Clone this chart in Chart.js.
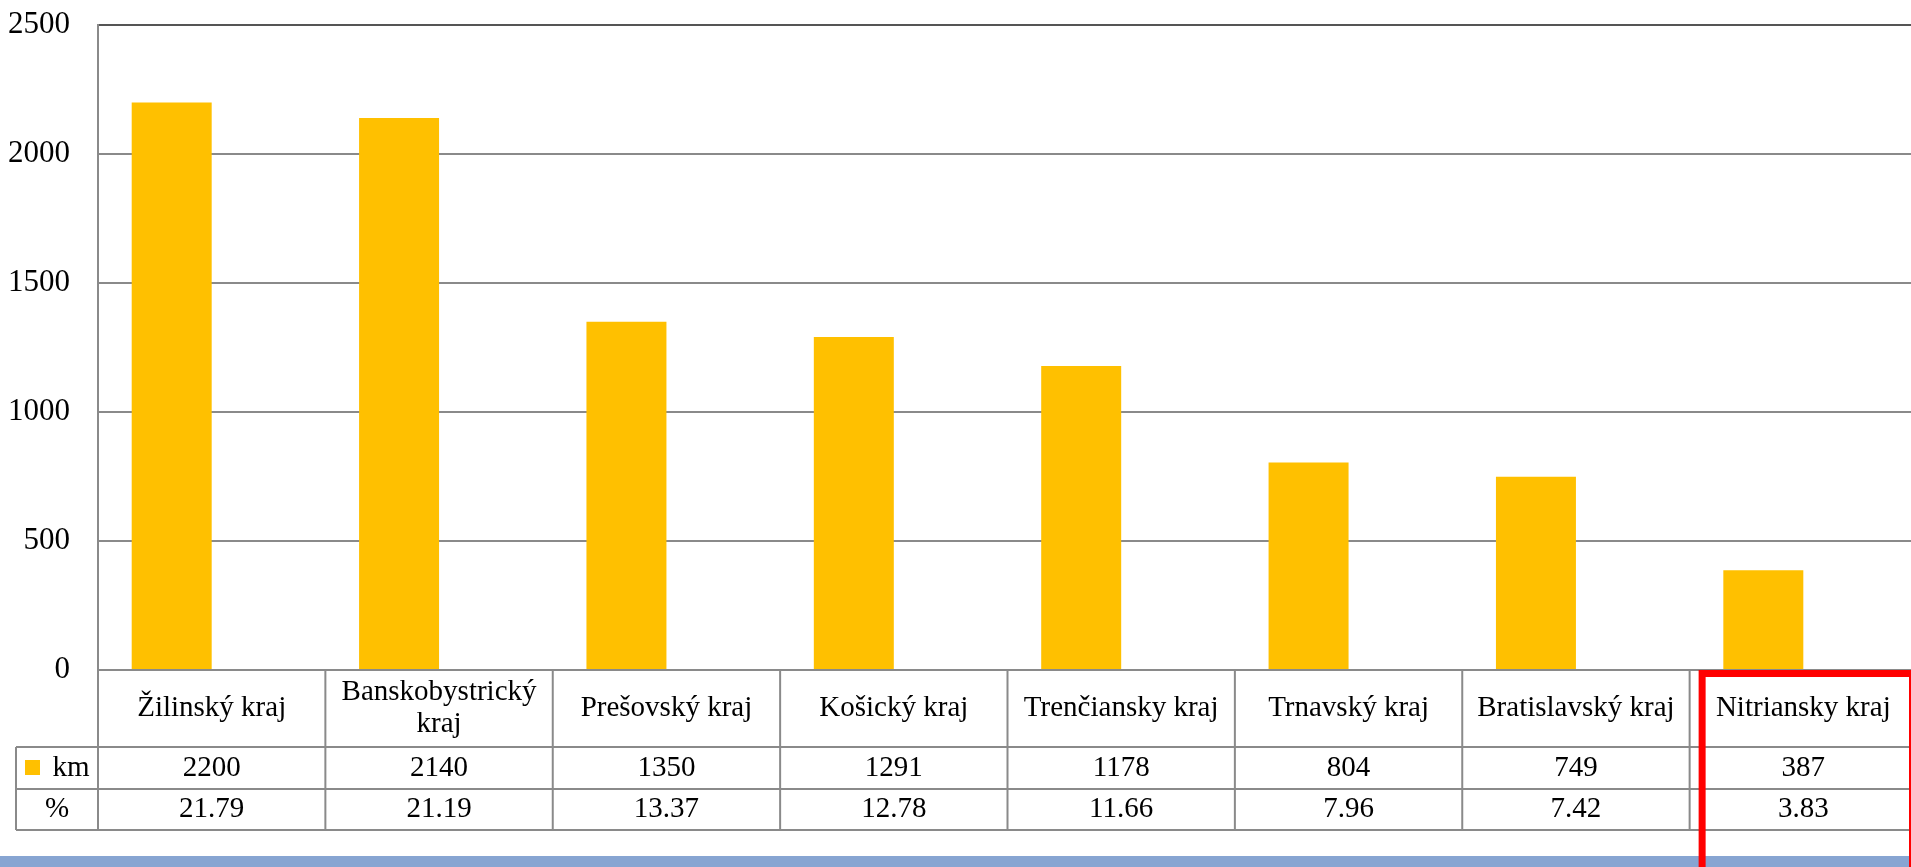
<!DOCTYPE html>
<html>
<head>
<meta charset="utf-8">
<script src="https://cdn.jsdelivr.net/npm/chart.js@4.4.1/dist/chart.umd.min.js"></script>
<style>
  html, body { margin: 0; padding: 0; background: #fff; overflow: hidden; }
  #wrap { width: 1917px; height: 867px; }
</style>
</head>
<body>
<div id="wrap"><canvas id="kmChart" width="1917" height="867"></canvas></div>
<script>
const categories = ['Žilinský kraj', 'Banskobystrický kraj', 'Prešovský kraj', 'Košický kraj', 'Trenčiansky kraj', 'Trnavský kraj', 'Bratislavský kraj', 'Nitriansky kraj'];
const kmValues = [2200, 2140, 1350, 1291, 1178, 804, 749, 387];
const pctValues = [21.79, 21.19, 13.37, 12.78, 11.66, 7.96, 7.42, 3.83];
const yTicks = [0, 500, 1000, 1500, 2000, 2500];
const highlighted = 'Nitriansky kraj';

const FONT = '"Liberation Serif", "Times New Roman", serif';
const LINE = '#8a8a8a';

// rows of the data table under the plot
const catRowH = 77, kmRowH = 42, pctRowH = 41;
const legendLeft = 16;

function wrapText(ctx, text, maxW) {
  const words = text.split(' ');
  const lines = [];
  let cur = '';
  words.forEach(w => {
    const t = cur ? cur + ' ' + w : w;
    if (ctx.measureText(t).width > maxW && cur) { lines.push(cur); cur = w; }
    else cur = t;
  });
  lines.push(cur);
  return lines;
}

const tablePlugin = {
  id: 'dataTable',
  beforeDraw(chart) {
    const c = chart.ctx;
    c.save();
    c.fillStyle = '#fff';
    c.fillRect(0, 0, chart.width, chart.height);
    c.restore();
  },
  afterDraw(chart) {
    const c = chart.ctx, x = chart.scales.x, area = chart.chartArea;
    const colW = (area.right - area.left) / categories.length;
    const y0 = area.bottom, y1 = y0 + catRowH, y2 = y1 + kmRowH, y3 = y2 + pctRowH;
    c.save();
    c.strokeStyle = LINE;
    c.lineWidth = 2;
    c.beginPath();
    c.moveTo(area.left, y0); c.lineTo(area.right, y0);
    [y1, y2, y3].forEach(y => { c.moveTo(legendLeft, y); c.lineTo(area.right, y); });
    c.moveTo(legendLeft, y1); c.lineTo(legendLeft, y3);
    for (let i = 0; i <= categories.length; i++) {
      const lx = area.left + i * colW;
      c.moveTo(lx, y0); c.lineTo(lx, y3);
    }
    c.stroke();

    c.fillStyle = '#000';
    c.font = '29px ' + FONT;
    c.textAlign = 'center';
    c.textBaseline = 'middle';
    const km = chart.data.datasets[0].data, pct = chart.data.datasets[1].data;
    categories.forEach((cat, i) => {
      const cx = x.getPixelForValue(i);
      const lines = wrapText(c, cat, colW - 16);
      const lh = 32, mid = (y0 + y1) / 2;
      lines.forEach((ln, j) => c.fillText(ln, cx, mid + (j - (lines.length - 1) / 2) * lh));
      c.fillText(String(km[i]), cx, (y1 + y2) / 2);
      c.fillText(pct[i].toFixed(2), cx, (y2 + y3) / 2);
    });

    // legend cells
    c.fillStyle = chart.data.datasets[0].backgroundColor;
    c.fillRect(25, (y1 + y2) / 2 - 8, 15, 15);
    c.fillStyle = '#000';
    c.fillText('km', 71, (y1 + y2) / 2);
    c.fillText('%', (legendLeft + area.left) / 2, (y2 + y3) / 2);

    // blue strip at the bottom
    c.fillStyle = '#87a5d2';
    c.fillRect(0, 856, chart.width, chart.height - 856);

    // red frame round the highlighted column
    const hi = categories.indexOf(highlighted);
    const left = area.left + hi * colW + 9, right = area.left + (hi + 1) * colW - 1;
    c.strokeStyle = '#ff0000';
    c.lineWidth = 7;
    c.strokeRect(left + 3.5, y0 + 3.5, right - left - 7, 400);
    c.restore();
  }
};

new Chart(document.getElementById('kmChart'), {
  type: 'bar',
  data: {
    labels: categories,
    datasets: [
      { label: 'km', data: kmValues, backgroundColor: '#FFC000', barPercentage: 1, categoryPercentage: 0.7036 },
      { label: '%', data: pctValues, backgroundColor: 'rgba(0,0,0,0)', barPercentage: 1, categoryPercentage: 0.7036 }
    ]
  },
  options: {
    responsive: false,
    animation: false,
    devicePixelRatio: 1,
    layout: { padding: { top: 25, bottom: 867 - 670, left: 0, right: 0 } },
    plugins: { legend: { display: false }, tooltip: { enabled: false }, title: { display: false } },
    scales: {
      x: { display: false, grid: { display: false } },
      y: {
        min: 0, max: 2500,
        afterBuildTicks: (s) => { s.ticks = yTicks.map(v => ({ value: v })); },
        afterFit: (s) => { s.width = 98; s.paddingTop = 0; s.paddingBottom = 0; },
        grid: {
          drawTicks: false,
          color: (ctx) => ctx.tick && ctx.tick.value === 2500 ? '#555' : LINE,
          lineWidth: 2
        },
        border: { color: LINE, width: 2 },
        ticks: {
          padding: 28, color: '#000', font: { family: FONT, size: 31 },
          callback: (v) => String(v)
        }
      }
    }
  },
  plugins: [tablePlugin]
});
</script>
</body>
</html>
